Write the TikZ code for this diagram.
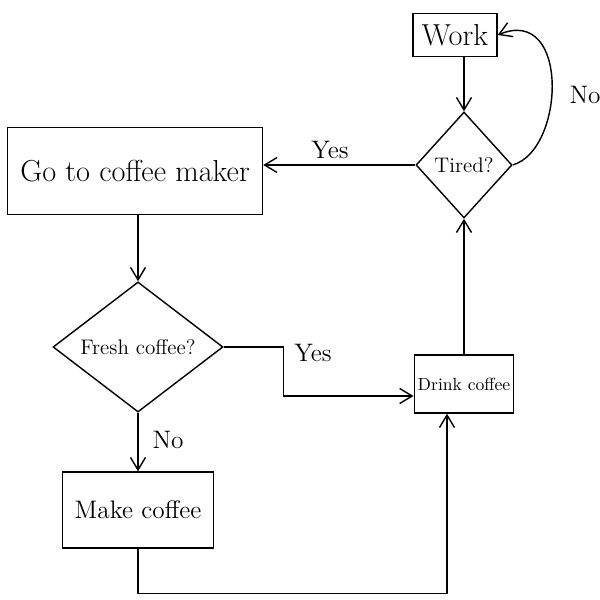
\documentclass[tikz,border=0pt]{standalone}
\usetikzlibrary{arrows.meta, shapes.geometric, positioning}

\tikzset{
    box/.style={draw, line width=0.8pt, inner sep=2pt},
    decision/.style={draw, diamond, line width=0.8pt, inner sep=0pt},
    flow/.style={-{Straight Barb[length=2.5mm, width=3mm]}, line width=0.8pt},
}

\begin{document}
\begin{tikzpicture}
            \useasboundingbox (0, 0) rectangle (12, 12);
            % the boxes
            \node[box, minimum width=1.68cm, minimum height=0.86cm, font=\LARGE] (work) at (9.1, 11.3) {Work};
            \node[decision, minimum width=1.92cm, minimum height=2.12cm, font=\large] (tired) at (9.28, 8.7) {Tired?};
            \node[box, minimum width=5.1cm, minimum height=1.74cm, font=\LARGE] (gotomaker) at (2.7, 8.58) {Go to coffee maker};
            \node[decision, minimum width=3.4cm, minimum height=2.3cm, font=\large] (fresh) at (2.76, 5.06) {Fresh coffee?};
            \node[box, minimum width=3.02cm, minimum height=1.52cm, font=\Large] (make) at (2.76, 1.8) {Make coffee};
            \node[box, minimum width=1.86cm, minimum height=1.16cm] (drink) at (9.28, 4.32) {Drink coffee};
            % the connectors
            \draw[flow] (tired.north |- work.south) -- (tired.north);
            \draw[flow] (tired.east) .. controls (11.3, 9.0) and (11.4, 11.9) .. (work.east);
            \node (notired) at (11.7, 10.1) {\Large No};
            \draw[flow] (tired.west) -- (tired.west -| gotomaker.east);
            \node[above] (yestired) at (6.6, 8.7) {\Large Yes};
            \draw[flow] (gotomaker.south -| fresh.north) -- (fresh.north);
            \draw[flow] (fresh.east) -- ++(1.2, 0) |- ([yshift=-0.24cm]drink.west);
            \node (yesfresh) at (6.26, 4.94) {\Large Yes};
            \draw[flow] (fresh.south) -- (make.north);
            \node (nofresh) at (3.36, 3.2) {\Large No};
            \draw[flow] (make.south) -- ++(0, -0.9) -| ([xshift=-0.34cm]drink.south);
            \draw[flow] (drink.north) -- (tired.south);
        \end{tikzpicture}
\end{document}
